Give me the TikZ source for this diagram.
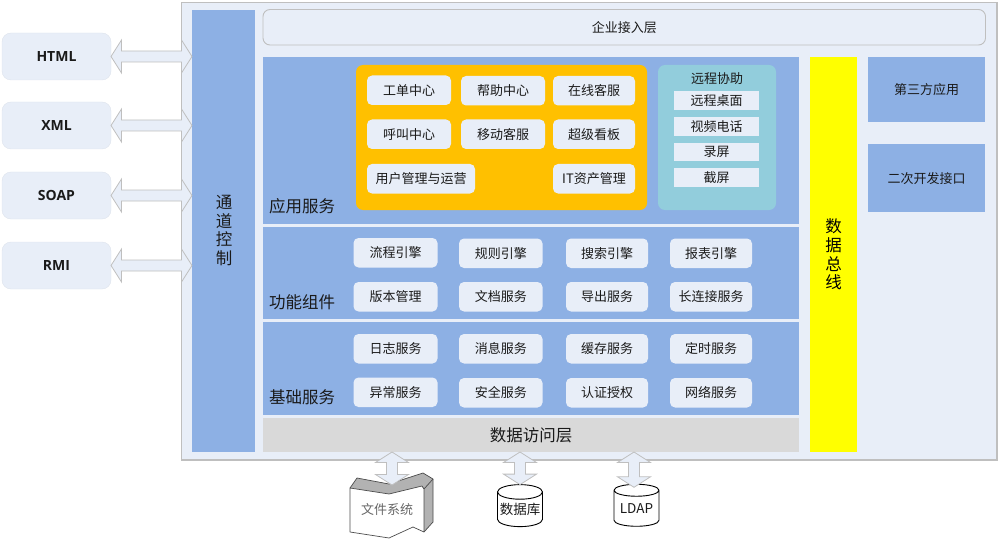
\documentclass[tikz,border=0pt]{standalone}
\usepackage{fontspec}
\setmainfont{Noto Sans CJK SC}
\newfontfamily\labelfont{Open Sans}
\usetikzlibrary{calc,shapes.geometric}
\definecolor{panelblue}{HTML}{8DB0E4}
\definecolor{paleblue}{HTML}{E8EEF8}
\definecolor{amberbox}{HTML}{FFC000}
\definecolor{tealbox}{HTML}{92CDDC}
\definecolor{accessgray}{HTML}{D9D9D9}
\definecolor{edgegray}{HTML}{BFBFBF}
\definecolor{inktext}{HTML}{1A1A1A}
\definecolor{busyellow}{HTML}{FFFF00}
\tikzset{
  blk/.style={inner sep=0pt,outer sep=0pt,align=center,text=inktext,font=\fontsize{13}{15}\selectfont},
  panel/.style={blk,fill=panelblue},
  item/.style={blk,fill=paleblue,rounded corners=5pt},
  flat/.style={blk,fill=paleblue},
  client/.style={blk,fill=paleblue,draw=paleblue!90!gray,rounded corners=9pt,font=\labelfont\bfseries\fontsize{14}{16}\selectfont},
  seclabel/.style={inner sep=0pt,text=inktext,font=\fontsize{16.5}{18}\selectfont},
  tall/.style={font=\fontsize{16.5}{18.6}\selectfont},
  store/.style={cylinder,shape border rotate=90,aspect=0.36,draw=black,fill=white,line width=0.9pt,
    inner sep=0pt,outer sep=0pt,minimum width=45pt,minimum height=42pt,text=inktext,font=\fontsize{13.5}{15}\selectfont},
  fat/.style={draw=edgegray,fill=paleblue,line width=0.8pt,line join=miter,to path={
    let \p1=(\tikztostart),\p2=(\tikztotarget),\n1={atan2(\y2-\y1,\x2-\x1)},\n2={veclen(\x2-\x1,\y2-\y1)} in
    -- ($(\p1)+(\n1:10.5pt)+(\n1+90:16.5pt)$)
    -- ($(\p1)+(\n1:10.5pt)+(\n1+90:5.5pt)$)
    -- ($(\p1)+(\n1:\n2-10.5pt)+(\n1+90:5.5pt)$)
    -- ($(\p1)+(\n1:\n2-10.5pt)+(\n1+90:16.5pt)$)
    -- (\p2)
    -- ($(\p1)+(\n1:\n2-10.5pt)+(\n1-90:16.5pt)$)
    -- ($(\p1)+(\n1:\n2-10.5pt)+(\n1-90:5.5pt)$)
    -- ($(\p1)+(\n1:10.5pt)+(\n1-90:5.5pt)$)
    -- ($(\p1)+(\n1:10.5pt)+(\n1-90:16.5pt)$)
    -- cycle}},
}
% rectangle given by its corners: style, name, x1, y1, x2, y2, text
\newcommand\bx[7]{\node[#1,minimum width={(#5-#3)*1pt},minimum height={(#6-#4)*1pt}] (#2) at ({(#3+#5)/2},{(#4+#6)/2}) {#7};}
\begin{document}
\begin{tikzpicture}[x=1pt,y=-1pt]
\useasboundingbox (0,0) rectangle (1000,540);

% main frame
\bx{blk,fill=paleblue,draw=edgegray,line width=1.2pt}{frame}{181.5}{2.5}{997}{460}{}

% external protocols
\bx{client}{html}{2}{33}{111}{80}{HTML}
\bx{client}{xml}{2}{102}{111}{149}{XML}
\bx{client}{soap}{2}{172}{111}{219}{SOAP}
\bx{client}{rmi}{2}{242}{111}{289}{RMI}

% channel column, access layer, bus and side boxes
\bx{panel,tall}{chan}{192}{10}{255}{452}{}
\node[blk,tall] (chanlabel) at (224,230.5) {通\\道\\控\\制};
\bx{blk,fill=paleblue,draw=edgegray,line width=0.9pt,rounded corners=7pt}{gateway}{263}{9.5}{985.5}{45}{企业接入层}
\bx{panel}{apps}{263}{57}{799}{224}{}
\bx{panel}{comps}{263}{227}{799}{319}{}
\bx{panel}{basics}{263}{322}{799}{415}{}
\bx{blk,fill=accessgray,font=\fontsize{16.5}{18}\selectfont}{dal}{263}{418}{799}{452}{数据访问层}
\bx{blk,fill=busyellow,text=black,tall}{bus}{810}{57}{857}{452}{数\\据\\总\\线}
\bx{panel}{third}{868}{57}{985}{122}{第三方应用}
\bx{panel}{devapi}{868}{144.5}{985}{212}{二次开发接口}

% section captions
\node[seclabel] (lblapps) at (302,206) {应用服务};
\node[seclabel] (lblcomps) at (302,302) {功能组件};
\node[seclabel] (lblbasics) at (302,397) {基础服务};

% application services
\bx{blk,fill=amberbox,rounded corners=7pt}{amber}{356}{65}{647}{210}{}
\bx{item}{a1}{367}{75.5}{451}{105}{工单中心}
\bx{item}{a2}{461}{76}{545}{105.5}{帮助中心}
\bx{item}{a3}{553}{76}{635}{105.5}{在线客服}
\bx{item}{a4}{367}{119.5}{451}{149}{呼叫中心}
\bx{item}{a5}{461}{119.5}{545}{149}{移动客服}
\bx{item}{a6}{553}{119.5}{635}{149}{超级看板}
\bx{item}{a7}{367}{164}{475}{193.5}{用户管理与运营}
\bx{item}{a8}{553}{164}{635}{193.5}{IT资产管理}

% remote assistance
\bx{blk,fill=tealbox,rounded corners=7pt}{teal}{658}{65}{776}{210}{}
\node[blk] (tealtitle) at (717,79) {远程协助};
\bx{flat}{r1}{674}{91}{759}{110}{远程桌面}
\bx{flat}{r2}{674}{117}{759}{136}{视频电话}
\bx{flat}{r3}{674}{143}{759}{161.5}{录屏}
\bx{flat}{r4}{674}{168}{759}{186.5}{截屏}

% functional components
\bx{item}{c1}{353.5}{238}{437.5}{267.5}{流程引擎}
\bx{item}{c2}{459}{238.5}{542.5}{268}{规则引擎}
\bx{item}{c3}{566}{238.5}{648}{268}{搜索引擎}
\bx{item}{c4}{670}{238.5}{752}{268}{报表引擎}
\bx{item}{c5}{353.5}{282}{437.5}{311.5}{版本管理}
\bx{item}{c6}{459}{282}{542.5}{311.5}{文档服务}
\bx{item}{c7}{566}{282}{648}{311.5}{导出服务}
\bx{item}{c8}{670}{282}{752}{311.5}{长连接服务}

% base services
\bx{item}{b1}{353.5}{334}{437.5}{363.5}{日志服务}
\bx{item}{b2}{459}{334}{542.5}{363.5}{消息服务}
\bx{item}{b3}{566}{334}{648}{363.5}{缓存服务}
\bx{item}{b4}{670}{334}{752}{363.5}{定时服务}
\bx{item}{b5}{353.5}{377.5}{437.5}{407}{异常服务}
\bx{item}{b6}{459}{378}{542.5}{407.5}{安全服务}
\bx{item}{b7}{566}{378}{648}{407.5}{认证授权}
\bx{item}{b8}{670}{378}{752}{407.5}{网络服务}

% protocol links
\draw[fat] (html.east) to (chan.west |- html.east);
\draw[fat] (xml.east) to (chan.west |- xml.east);
\draw[fat] (soap.east) to (chan.west |- soap.east);
\draw[fat] (rmi.east) to (chan.west |- rmi.east);

% file store
\fill[gray!60] (350,488) -- (357,478) -- (389,484) -- (423,473) -- (433,479) -- (424,489) -- (422,486) -- (389,494) -- cycle;
\fill[gray!60] (424,489) -- (433,479) -- (433,522) -- (424,532) -- cycle;
\draw[black!70,line width=0.7pt,line join=round] (350,488) -- (389,494) -- (422,486) -- (424,489) -- (424,532) -- (413,527) -- (389,538) -- (350,532) -- cycle;
\draw[black!70,line width=0.7pt,line join=round] (350,488) -- (357,478) -- (389,484) -- (423,473) -- (433,479) -- (433,522) -- (424,532);
\draw[black!70,line width=0.7pt] (424,489) -- (433,479);
\node[blk,text=black!60] (files) at (387,510) {文件系统};
\coordinate (filestop) at (392,485);

% database and directory
\node[store] (db) at (520,509.5) {\raisebox{-4pt}{数据库}};
\node[store] (ldap) at (636.5,508.5) {\raisebox{-2pt}{LDAP}};

% storage links
\draw[fat] (dal.south -| filestop) to (filestop);
\draw[fat] (dal.south -| db.north) to (db.north);
\draw[fat] (dal.south -| 634,0) to ($(ldap.north)+(-2.5,3)$);
\end{tikzpicture}
\end{document}
